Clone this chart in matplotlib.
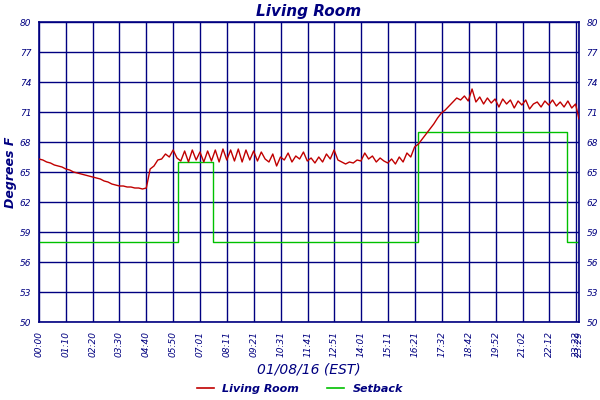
import numpy as np
import matplotlib
matplotlib.use("Agg")
import matplotlib.pyplot as plt

living = [66.3,66.2,66.0,65.9,65.7,65.6,65.5,65.3,65.2,65.0,64.9,64.8,64.7,64.6,64.5,64.4,64.3,64.1,64.0,63.8,63.7,63.6,63.6,63.5,63.5,63.4,63.4,63.3,
          63.4,65.3,65.6,66.2,66.3,66.8,66.5,67.2,66.4,
          66.1,67.1,66.0,67.2,66.2,67.0,66.0,67.1,66.1,67.2,66.0,67.3,66.2,67.2,66.1,67.3,66.0,67.2,66.2,67.1,66.1,67.0,66.3,
          66.0,66.8,65.6,66.5,66.2,66.9,66.0,66.6,66.3,67.0,66.1,66.4,65.9,66.5,66.0,66.8,66.3,67.2,66.2,66.0,65.8,66.0,65.9,66.2,66.1,66.9,66.3,66.6,66.0,66.4,66.1,65.9,66.3,65.8,66.5,66.0,
          66.9,66.5,67.5,67.8,68.3,68.8,69.3,69.8,70.4,70.9,71.2,71.6,72.0,72.4,72.2,72.6,72.1,73.3,72.0,72.5,71.8,72.4,71.9,72.3,71.5,72.3,71.8,72.2,71.4,72.1,71.7,72.2,71.3,71.8,72.0,71.5,72.1,71.7,72.2,71.6,72.0,71.5,72.1,71.4,71.8,
          70.3]
living_t = list(np.arange(len(living) - 1) * 10) + [1409]

setback_t = [0, 362, 453, 989, 1378, 1409]
setback = [58, 66, 58, 69, 58, 58]

tick_min = [0,70,140,210,280,350,421,491,561,631,701,771,841,911,981,1052,1122,1192,1262,1332,1402,1409]
tick_lab = ["00:00","01:10","02:20","03:30","04:40","05:50","07:01","08:11","09:21","10:31","11:41",
            "12:51","14:01","15:11","16:21","17:32","18:42","19:52","21:02","22:12","23:22","23:29"]
yticks = [50,53,56,59,62,65,68,71,74,77,80]

navy = "#000080"
fig = plt.figure(figsize=(6, 4), dpi=100)
ax = fig.add_axes([0.065, 0.195, 0.9, 0.75])
ax.plot(living_t, living, color="#c00000", lw=1.0, zorder=3)
ax.step(setback_t, setback, where="post", color="#00c000", lw=1.0, zorder=2)
ax.set_xlim(0, 1409)
ax.set_ylim(50, 80)
ax.set_xticks(tick_min)
ax.set_xticklabels(tick_lab, rotation=90, fontsize=6.5, color=navy, style="italic")
ax.set_yticks(yticks)
ax.set_yticklabels([str(v) for v in yticks], fontsize=6.5, color=navy, style="italic")
ax.tick_params(axis="y", which="both", labelright=True, right=False, left=False, pad=2)
ax.tick_params(axis="x", bottom=False, pad=3)
ax.grid(True, color=navy, lw=1.0)
for s in ax.spines.values():
    s.set_color(navy)
    s.set_linewidth(1.2)
ax.set_title("Living Room", fontsize=11, color=navy, style="italic", fontweight="bold", pad=4)
ax.set_ylabel("Degrees F", fontsize=9, color=navy, style="italic", fontweight="bold", labelpad=2)
ax.set_xlabel("01/08/16 (EST)", fontsize=10, color=navy, style="italic", labelpad=4)
h1, = ax.plot([], [], color="#c00000", lw=1.2, label="Living Room")
h2, = ax.plot([], [], color="#00c000", lw=1.2, label="Setback")
leg = fig.legend(handles=[h1, h2], loc="lower center", bbox_to_anchor=(0.5, -0.01), ncol=2,
                 frameon=False, fontsize=8, handlelength=1.5, columnspacing=2.5)
for t in leg.get_texts():
    t.set_color(navy); t.set_style("italic"); t.set_fontweight("bold")
fig.savefig("out.png", dpi=100)
